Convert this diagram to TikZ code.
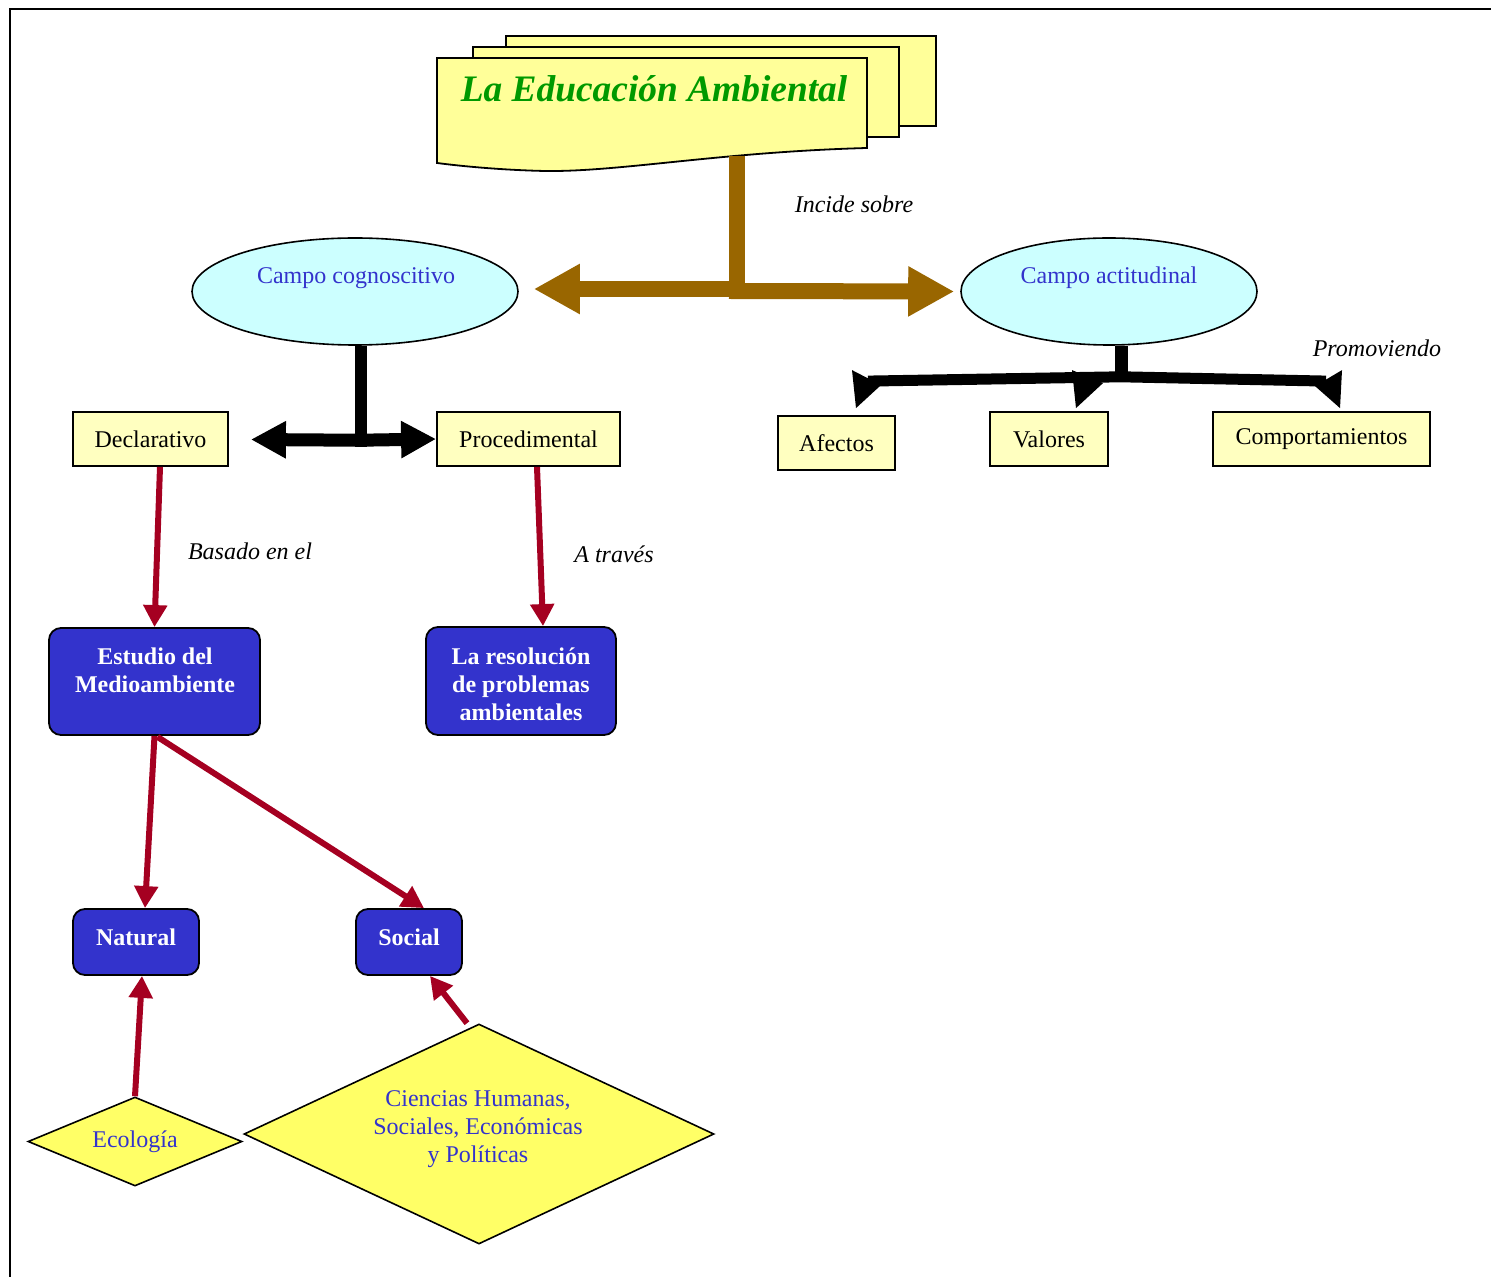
\documentclass[tikz,border=0pt]{standalone}
\usepackage{fontspec}
\setmainfont{Liberation Serif}
\usetikzlibrary{shapes.geometric,arrows.meta,calc}

\definecolor{pageyellow}{HTML}{FFFF99}
\definecolor{boxyellow}{HTML}{FFFFC0}
\definecolor{rhombyellow}{HTML}{FFFF66}
\definecolor{fieldcyan}{HTML}{CCFFFF}
\definecolor{deepblue}{HTML}{3333CC}
\definecolor{titlegreen}{HTML}{009900}
\definecolor{ochre}{HTML}{996600}
\definecolor{wine}{HTML}{A50021}

\begin{document}
\begin{tikzpicture}[x=0.5pt,y=-0.5pt,
  txt/.style={font=\fontsize{12}{14}\selectfont, align=center, inner sep=0pt},
  page/.style={draw, line width=0.9pt, fill=pageyellow, line join=miter},
  box/.style={draw, line width=0.9pt, fill=boxyellow, minimum height=27pt, inner sep=0pt, txt},
  bluebox/.style={draw, line width=0.9pt, fill=deepblue, rounded corners=6pt, inner sep=0pt},
  field/.style={ellipse, draw, line width=0.8pt, fill=fieldcyan, inner sep=0pt, minimum height=53.5pt},
  rhomb/.style={diamond, draw, line width=0.8pt, fill=rhombyellow, inner sep=0pt},
  whitebold/.style={txt, text=white, font=\bfseries\fontsize{12}{14}\selectfont},
  bluetext/.style={txt, text=deepblue},
  note/.style={txt, font=\itshape\fontsize{12}{14}\selectfont},
  redarrow/.style={draw=wine, line width=3pt, -{Triangle[length=11pt,width=11.5pt]}},
  brownarrow/.style={draw=ochre, line width=8pt, -{Triangle[length=23pt,width=23.5pt]}},
  blackarrow/.style={draw=black, line width=6.5pt, -{Triangle[length=17.5pt,width=17.5pt]}}
]
\useasboundingbox (0,0) rectangle (1491,1277);

% frame
\draw[line width=1.2pt, line join=miter] (10,1277) -- (10,9) -- (1491,9);

% stacked title sheets
\draw[page] (506,36) rectangle (936,126);
\draw[page] (473,47) rectangle (899,137);
\draw[page] (437,58) -- (867,58) -- (867,148)
  .. controls (720,152) and (620,172) .. (545,171)
  .. controls (500,170) and (460,166) .. (437,163) -- cycle;
\node[txt, font=\bfseries\itshape\fontsize{18.7}{22}\selectfont, text=titlegreen] (ttl) at (654,89) {La Educación Ambiental};
\coordinate (tb) at (737,156);

% fields
\node[field, minimum width=163pt] (cc) at (355,291.5) {};
\node[bluetext] (cct) at (356,278) {Campo cognoscitivo};
\node[field, minimum width=148pt] (ca) at (1109,291.5) {};
\node[bluetext] (cat) at (1109,278) {Campo actitudinal};

% cognitive branch boxes
\node[box, minimum width=77.5pt] (decl) at (150.5,439) {Declarativo};
\node[box, minimum width=91.5pt] (proc) at (528.5,439) {Procedimental};

% attitudinal branch boxes
\node[box, minimum width=58.5pt] (afe) at (836.5,443) {Afectos};
\node[box, minimum width=59pt] (val) at (1049,439) {Valores};
\node[box, minimum width=108.5pt] (comp) at (1321.5,439) {Comportamientos};

% blue boxes
\node[bluebox, minimum width=105.5pt, minimum height=53.5pt] (est) at (154.5,681.5) {};
\node[whitebold] (estt) at (155,670) {Estudio del\\Medioambiente};
\node[bluebox, minimum width=95pt, minimum height=54pt] (res) at (521,681) {};
\node[whitebold] (rest) at (521,684) {La resolución\\de problemas\\ambientales};
\node[bluebox, minimum width=63pt, minimum height=33pt] (nat) at (136,942) {};
\node[whitebold] (natt) at (136,937) {Natural};
\node[bluebox, minimum width=53pt, minimum height=33pt] (soc) at (409,942) {};
\node[whitebold] (soct) at (409,937) {Social};

% diamonds
\node[rhomb, minimum width=107pt, minimum height=44.5pt] (eco) at (135,1141.5) {};
\node[bluetext] (ecot) at (135,1142) {Ecología};
\node[rhomb, minimum width=235pt, minimum height=110pt] (cien) at (479,1134) {};
\node[bluetext] (cient) at (478,1129) {Ciencias Humanas,\\Sociales, Económicas\\y Políticas};

% connector labels
\node[note] (l1) at (854,204) {Incide sobre};
\node[note] (l2) at (1377,348) {Promoviendo};
\node[note] (l3) at (250,551) {Basado en el};
\node[note] (l4) at (614,554) {A través};

% brown connector from the title
\coordinate (bj) at (737,299);
\draw[draw=ochre, line width=8pt] (tb) -- (bj);
\draw[brownarrow] ($(bj)+(8,-10)$) -- ($(cc.east)+(15,-2.5)$);
\draw[brownarrow] ($(bj)+(-8,-8)$) -- ($(ca.west)+(-6,0)$);

% black connector below the cognitive field
\coordinate (kj) at ($(cc.south)+(6,101)$);
\draw[line width=6pt] ($(cc.south)+(6,0)$) -- (kj);
\draw[blackarrow] ($(kj)+(6,-6.5)$) -- ($(decl.east)+(22,0.5)$);
\draw[blackarrow] ($(kj)+(-6,-6.5)$) -- (proc.west);

% black connector below the attitudinal field
\coordinate (t1) at ($(afe.north)+(19.5,-7)$);
\coordinate (t2) at ($(val.north)+(27,-3)$);
\coordinate (t3) at ($(comp.north)+(18.5,-3)$);
\coordinate (aj) at ($(ca.south)+(12,31)$);
\draw[line width=6.5pt] ($(ca.south)+(12,0)$) -- ($(aj)+(0,5)$);
\draw[line width=5.5pt, line join=round] ($(t1)+(12,-27)$) -- (aj) -- ($(t3)+(-14,-27)$);
\fill ($(t1)+(-4,-38)$) -- (t1) -- ($(t1)+(25,-23)$) -- cycle;
\fill ($(t2)+(-4,-38)$) -- (t2) -- ($(t2)+(27,-25)$) -- cycle;
\fill ($(t3)+(2,-38)$) -- (t3) -- ($(t3)+(-25,-22)$) -- cycle;

% red connectors
\draw[redarrow] ($(decl.south)+(9.5,0)$) -- (est.north);
\draw[redarrow] ($(proc.south)+(8.5,0)$) -- ($(res.north)+(22,0)$);
\draw[redarrow] (est.south) -- ($(nat.north)+(9,0)$);
\draw[redarrow] ($(est.south)+(3,1)$) -- ($(soc.north)+(15,0)$);
\draw[redarrow] (eco.north) -- ($(nat.south)+(6,0)$);
\draw[redarrow] ($(cien.north)+(-12,0)$) -- ($(soc.south)+(21,0)$);
\end{tikzpicture}
\end{document}
